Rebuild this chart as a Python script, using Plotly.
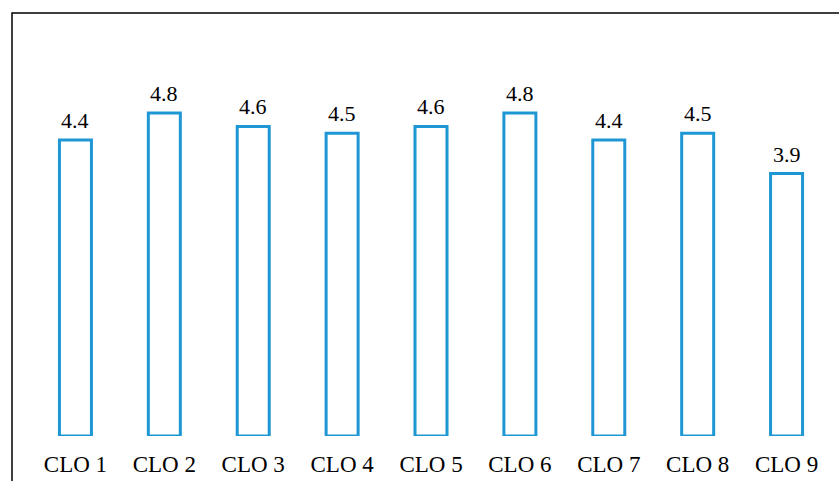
import plotly.graph_objects as go

# Mean attainment per course learning outcome
categories = ["CLO 1", "CLO 2", "CLO 3", "CLO 4", "CLO 5", "CLO 6", "CLO 7", "CLO 8", "CLO 9"]
scores = [4.4, 4.8, 4.6, 4.5, 4.6, 4.8, 4.4, 4.5, 3.9]

BLUE = "#1f97d4"
FONT = "Liberation Serif"

fig = go.Figure(
    go.Bar(
        x=categories,
        y=scores,
        marker=dict(color="white", line=dict(color=BLUE, width=3)),
        hoverinfo="x+y",
    )
)

# value labels above each bar
for cat, val in zip(categories, scores):
    fig.add_annotation(
        x=cat, y=val, text=f"{val:.1f}", showarrow=False,
        yanchor="bottom", yshift=5,
        font=dict(family=FONT, size=22, color="black"),
    )

# outer frame (left and top edges visible)
fig.add_shape(
    type="rect", xref="paper", yref="paper",
    x0=-0.02375, x1=1.2, y0=-0.5, y1=1.0,
    line=dict(color="black", width=1.5), fillcolor="rgba(0,0,0,0)",
    layer="above",
)

fig.update_layout(
    width=839, height=481,
    margin=dict(l=31, r=8, t=13, b=45),
    paper_bgcolor="white", plot_bgcolor="white",
    bargap=0.64,
    showlegend=False,
    font=dict(family=FONT, color="black"),
)
fig.update_xaxes(
    showline=False, showgrid=False, zeroline=False, ticks="",
    range=[-0.5, 8.5],
    automargin=False,
    ticklabelstandoff=12,
    tickfont=dict(family=FONT, size=23, color="black"),
)
fig.update_yaxes(
    visible=False, range=[0, 423 / 67.3], automargin=False,
)

fig.write_html("out.html")
